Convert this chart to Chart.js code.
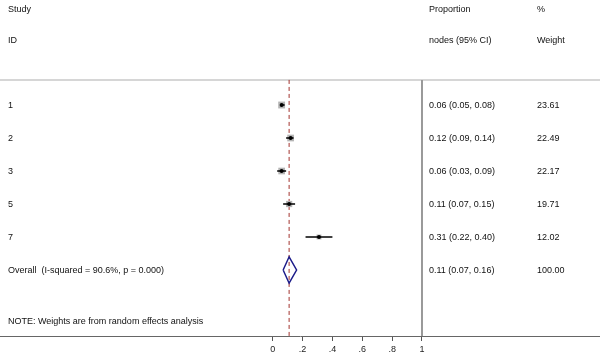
<!DOCTYPE html>
<html>
<head>
<meta charset="utf-8">
<script src="https://cdn.jsdelivr.net/npm/chart.js@4.4.1/dist/chart.umd.min.js"></script>
<style>
  body { margin: 0; background: #fff; }
  canvas { display: block; }
</style>
</head>
<body>
<canvas id="forest" width="600" height="355"></canvas>
<script>
// study rows (top to bottom)
var studyIds = ['1', '2', '3', '5', '7'];
var estimates = [0.06, 0.12, 0.06, 0.11, 0.31];
var lowerCI = [0.05, 0.09, 0.03, 0.07, 0.22];
var upperCI = [0.08, 0.14, 0.09, 0.15, 0.40];
var weights = [23.61, 22.49, 22.17, 19.71, 12.02];

// pooled estimate
var overallLabel = 'Overall  (I-squared = 90.6%, p = 0.000)';
var overallEst = 0.11;
var overallLo = 0.07;
var overallHi = 0.16;
var overallWeight = 100.00;

var noteText = 'NOTE: Weights are from random effects analysis';
var xTicks = [0, 0.2, 0.4, 0.6, 0.8, 1];

var fmt2 = function(v) { return v.toFixed(2); };
var ciText = function(e, l, h) { return fmt2(e) + ' (' + fmt2(l) + ', ' + fmt2(h) + ')'; };

var overallRow = studyIds.length;
var headerLine = -0.76;
var font = '9px "Liberation Sans", Arial, sans-serif';

var rows = estimates.map(function(e, i) { return { x: e, y: i }; });

var datasets = [];
// gray weight boxes
datasets.push({
  data: rows,
  pointStyle: 'rect',
  pointRadius: function(ctx) { return Math.sqrt(weights[ctx.dataIndex]) * 1.0; },
  backgroundColor: '#b4b4b4',
  borderWidth: 0,
  order: 3
});
// confidence intervals
estimates.forEach(function(e, i) {
  datasets.push({
    data: [{ x: lowerCI[i], y: i }, { x: upperCI[i], y: i }],
    showLine: true,
    borderColor: '#000',
    borderWidth: 1.5,
    pointRadius: 0,
    order: 2
  });
});
// point estimates
datasets.push({
  data: rows,
  pointStyle: 'circle',
  pointRadius: 2,
  backgroundColor: '#000',
  borderWidth: 0,
  order: 1
});
// overall diamond
datasets.push({
  data: [
    { x: overallLo, y: overallRow },
    { x: overallEst, y: overallRow - 0.4 },
    { x: overallHi, y: overallRow },
    { x: overallEst, y: overallRow + 0.4 },
    { x: overallLo, y: overallRow }
  ],
  showLine: true,
  borderColor: '#1c1c8a',
  borderWidth: 1.5,
  pointRadius: 0,
  tension: 0,
  order: 0
});

var textPlugin = {
  id: 'forestText',
  beforeDatasetsDraw: function(chart) {
    var ctx = chart.ctx, xs = chart.scales.x, ys = chart.scales.y, area = chart.chartArea;
    var yTop = ys.getPixelForValue(headerLine);
    ctx.save();
    // header rule
    ctx.strokeStyle = '#c8c8c8';
    ctx.lineWidth = 1.5;
    ctx.beginPath();
    ctx.moveTo(0, yTop); ctx.lineTo(chart.width, yTop);
    ctx.stroke();
    // line at 1
    var x1 = xs.getPixelForValue(1);
    ctx.strokeStyle = '#999';
    ctx.lineWidth = 2;
    ctx.beginPath();
    ctx.moveTo(x1, yTop); ctx.lineTo(x1, area.bottom);
    ctx.stroke();
    // overall estimate dashed line
    var xo = xs.getPixelForValue(overallEst);
    ctx.strokeStyle = '#a3332e';
    ctx.lineWidth = 1;
    ctx.setLineDash([4, 3]);
    ctx.beginPath();
    ctx.moveTo(xo, yTop); ctx.lineTo(xo, area.bottom);
    ctx.stroke();
    ctx.setLineDash([]);

    ctx.font = font;
    ctx.fillStyle = '#111';
    ctx.textBaseline = 'middle';
    ctx.textAlign = 'left';
    var colLabel = 8, colCI = 429, colW = 537;
    var yh1 = ys.getPixelForValue(-2.9), yh2 = ys.getPixelForValue(-1.96);
    ctx.fillText('Study', colLabel, yh1);
    ctx.fillText('ID', colLabel, yh2);
    ctx.fillText('Proportion', colCI, yh1);
    ctx.fillText('nodes (95% CI)', colCI, yh2);
    ctx.fillText('%', colW, yh1);
    ctx.fillText('Weight', colW, yh2);
    studyIds.forEach(function(id, i) {
      var y = ys.getPixelForValue(i) + 1;
      ctx.fillText(id, colLabel, y);
      ctx.fillText(ciText(estimates[i], lowerCI[i], upperCI[i]), colCI, y);
      ctx.fillText(fmt2(weights[i]), colW, y);
    });
    var yo = ys.getPixelForValue(overallRow) + 1;
    ctx.fillText(overallLabel, colLabel, yo);
    ctx.fillText(ciText(overallEst, overallLo, overallHi), colCI, yo);
    ctx.fillText(fmt2(overallWeight), colW, yo);
    ctx.fillText(noteText, colLabel, ys.getPixelForValue(6.52) + 1);
    ctx.restore();
  }
};

new Chart(document.getElementById('forest'), {
  type: 'scatter',
  data: { datasets: datasets },
  options: {
    responsive: false,
    animation: false,
    devicePixelRatio: 1,
    layout: { padding: 0, autoPadding: false },
    plugins: { legend: { display: false }, tooltip: { enabled: false } },
    scales: {
      x: {
        type: 'linear',
        min: -1.8265,
        max: 2.1923,
        afterBuildTicks: function(scale) {
          scale.ticks = xTicks.map(function(v) { return { value: v }; });
        },
        afterFit: function(scale) { scale.height = 19; },
        ticks: {
          autoSkip: false,
          maxRotation: 0,
          padding: 3,
          color: '#222',
          font: { family: '"Liberation Sans", Arial, sans-serif', size: 9 },
          callback: function(v) {
            if (v === 0 || v === 1) return String(v);
            return String(Math.round(v * 10) / 10).replace('0.', '.');
          }
        },
        grid: { drawOnChartArea: false, tickLength: 5, color: '#555', lineWidth: 1 },
        border: { display: true, color: '#666', width: 1 }
      },
      y: {
        type: 'linear',
        display: false,
        reverse: true,
        min: -3.182,
        max: 7.0
      }
    }
  },
  plugins: [textPlugin]
});
</script>
</body>
</html>
